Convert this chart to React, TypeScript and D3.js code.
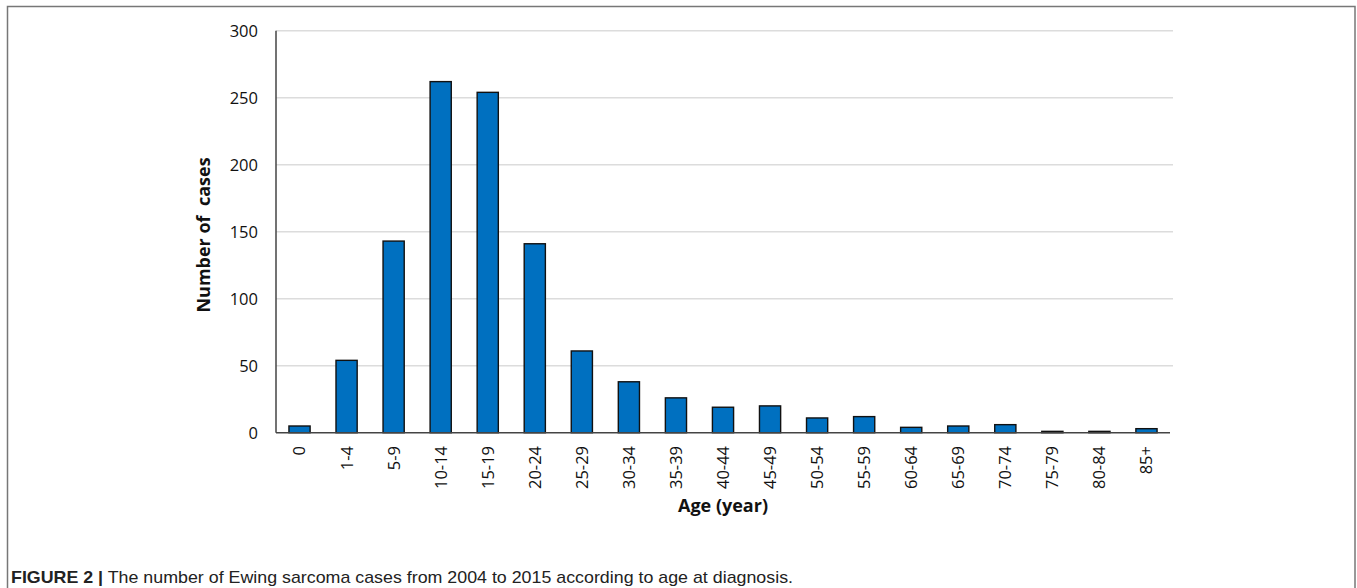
import React from "react";
import * as d3 from "d3";

const categories = ["0","1-4","5-9","10-14","15-19","20-24","25-29","30-34","35-39","40-44","45-49","50-54","55-59","60-64","65-69","70-74","75-79","80-84","85+"];
const cases = [5,54,143,262,254,141,61,38,26,19,20,11,12,4,5,6,1,1,3];
const yTicks = [0,50,100,150,200,250,300];

const W = 1357, H = 588;
const left = 276, right = 1170, top = 30.7, bottom = 432.7;

export default function App() {
  const x = d3.scaleBand<string>().domain(categories).range([left, right]).paddingInner(0.55).paddingOuter(0.275);
  const y = d3.scaleLinear().domain([0, 300]).range([bottom, top]);
  const font = "'Open Sans', sans-serif";
  return (
    <svg width={W} height={H} style={{ position: "absolute", left: 0, top: 0, background: "#fff" }}>
      <rect x={7.5} y={6.5} width={1347.5} height={600} fill="none" stroke="#777" strokeWidth={1.5} />
      {yTicks.filter(t => t > 0).map(t => (
        <line key={t} x1={left} x2={1173} y1={y(t)} y2={y(t)} stroke="#dcdcdc" strokeWidth={1.6} />
      ))}
      {cases.map((v, i) => (
        <rect key={categories[i]} x={x(categories[i])} y={y(v)} width={x.bandwidth()} height={y(0) - y(v)}
          fill="#0070C0" stroke="#111" strokeWidth={1.4} />
      ))}
      <line x1={left} x2={left} y1={top} y2={bottom} stroke="#444" strokeWidth={1.5} />
      <line x1={left} x2={right} y1={bottom} y2={bottom} stroke="#444" strokeWidth={1.5} />
      {yTicks.map(t => (
        <text key={t} x={258} y={y(t)} dy="0.36em" textAnchor="end" fontFamily={font} fontSize={16.5} fill="#111">{t}</text>
      ))}
      {categories.map(c => {
        const cx = (x(c) as number) + x.bandwidth() / 2;
        return (
          <text key={c} transform={`translate(${cx},446) rotate(-90)`} dy="0.36em" textAnchor="end" fontFamily={font} fontSize={16.5} fill="#111">{c}</text>
        );
      })}
      <text transform={`translate(204,235) rotate(-90)`} dy="0.36em" textAnchor="middle" fontFamily={font} fontSize={18} fontWeight="bold" fill="#111" style={{ whiteSpace: "pre" }}>Number of  cases</text>
      <text x={(left + right) / 2} y={512} textAnchor="middle" fontFamily={font} fontSize={18} fontWeight="bold" fill="#111">Age (year)</text>
      <text x={11} y={583} fontFamily="'Liberation Sans Narrow', 'Liberation Sans', Arial, sans-serif" fontSize={17} fill="#222" textLength={782} lengthAdjust="spacingAndGlyphs">
        <tspan fontWeight="bold">FIGURE 2 |</tspan>
        <tspan> The number of Ewing sarcoma cases from 2004 to 2015 according to age at diagnosis.</tspan>
      </text>
    </svg>
  );
}
